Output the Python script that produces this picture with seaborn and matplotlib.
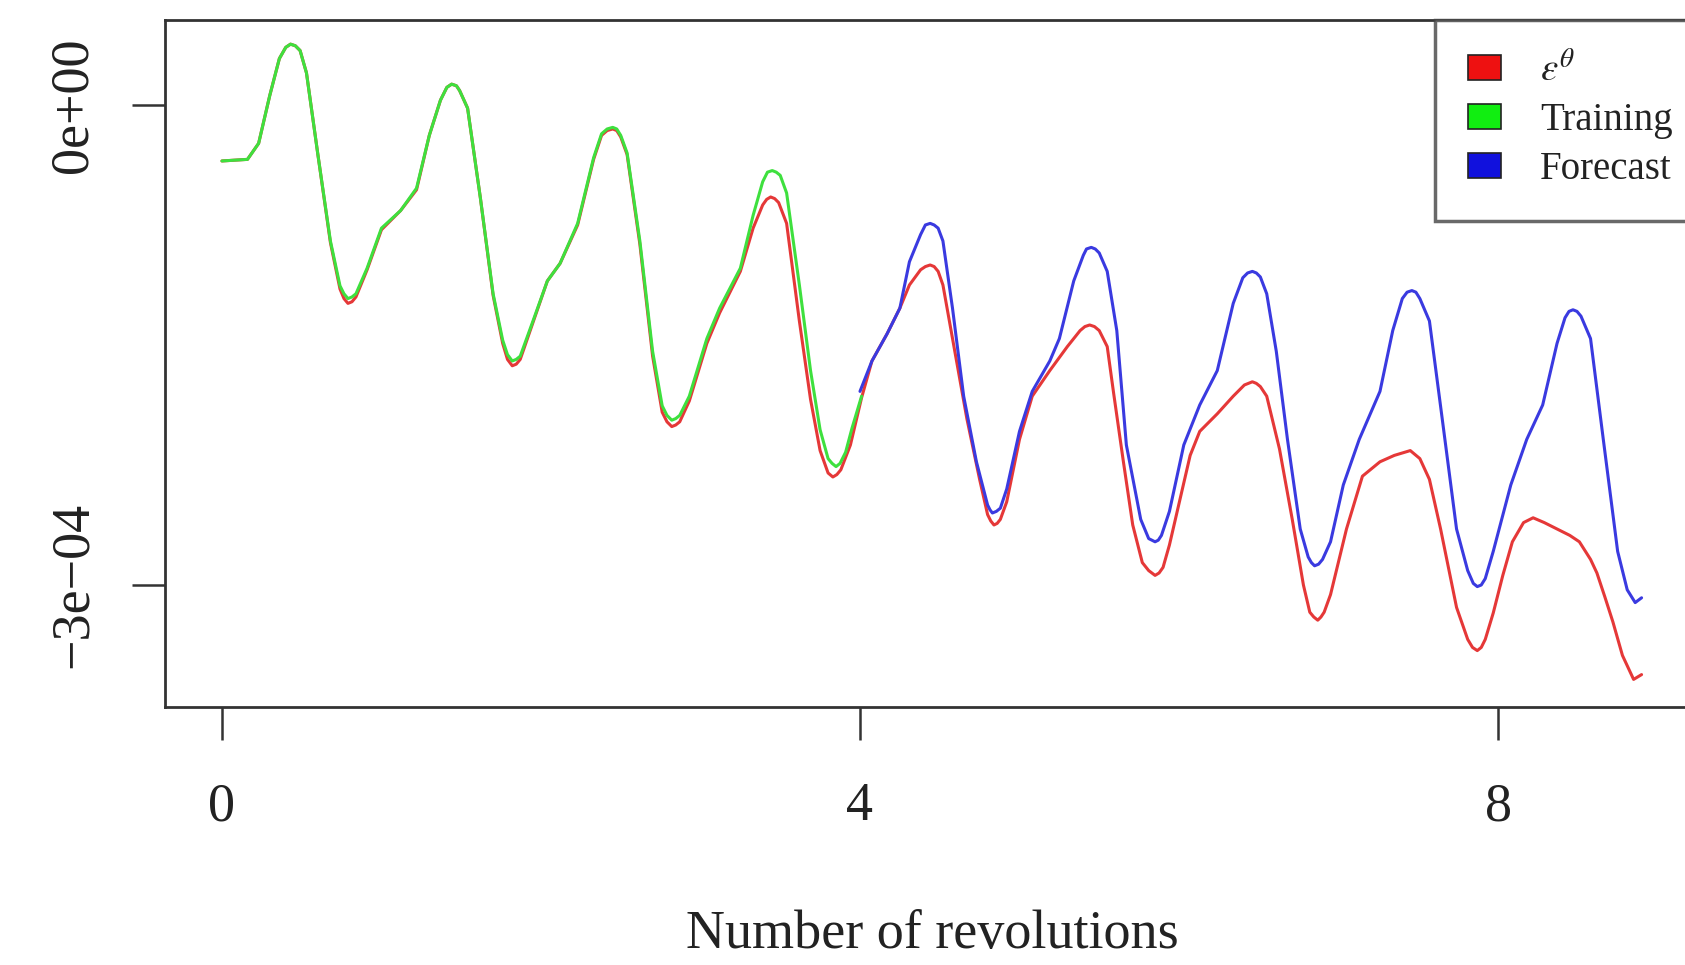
import numpy as np
import pandas as pd
import matplotlib
matplotlib.use("Agg")
import matplotlib.pyplot as plt
from matplotlib.patches import Patch
import seaborn as sns

# ---- data (x: number of revolutions, y: units of 1e-4) ----
eps_x = [0.00, 0.16, 0.23, 0.30, 0.36, 0.40, 0.43, 0.46, 0.49, 0.53, 0.60, 0.68, 0.74, 0.765,
         0.79, 0.815, 0.84, 0.91, 1.00, 1.12, 1.22, 1.30, 1.37, 1.41, 1.44, 1.47, 1.49, 1.54,
         1.62, 1.70, 1.76, 1.79, 1.82, 1.845, 1.87, 1.95, 2.04, 2.12, 2.23, 2.33, 2.38, 2.415,
         2.45, 2.475, 2.50, 2.54, 2.62, 2.70, 2.76, 2.79, 2.82, 2.845, 2.87, 2.93, 3.04, 3.12,
         3.25, 3.33, 3.39, 3.415, 3.44, 3.465, 3.49, 3.54, 3.62, 3.69, 3.75, 3.80, 3.83, 3.855,
         3.88, 3.94, 4.01, 4.075, 4.17, 4.25, 4.31, 4.38, 4.41, 4.44, 4.465, 4.49, 4.52, 4.58,
         4.67, 4.75, 4.80, 4.82, 4.84, 4.86, 4.88, 4.92, 5.00, 5.08, 5.19, 5.30, 5.38, 5.41,
         5.44, 5.47, 5.50, 5.55, 5.59, 5.65, 5.71, 5.77, 5.81, 5.85, 5.875, 5.90, 5.94, 6.01,
         6.07, 6.13, 6.24, 6.34, 6.41, 6.435, 6.46, 6.485, 6.51, 6.55, 6.63, 6.71, 6.78, 6.82,
         6.845, 6.87, 6.89, 6.91, 6.95, 7.05, 7.15, 7.26, 7.35, 7.45, 7.51, 7.57, 7.64, 7.74,
         7.81, 7.84, 7.87, 7.895, 7.92, 7.97, 8.03, 8.09, 8.16, 8.22, 8.29, 8.37, 8.45, 8.51,
         8.58, 8.62, 8.67, 8.72, 8.78, 8.85, 8.90]
eps_y = [-0.35, -0.34, -0.24, 0.06, 0.29, 0.36, 0.38, 0.37, 0.34, 0.20, -0.30, -0.86, -1.15, -1.21,
         -1.24, -1.23, -1.20, -1.03, -0.78, -0.66, -0.53, -0.19, 0.03, 0.11, 0.13, 0.12, 0.09, -0.02,
         -0.58, -1.19, -1.49, -1.59, -1.63, -1.62, -1.59, -1.36, -1.10, -0.99, -0.75, -0.34, -0.19, -0.16,
         -0.15, -0.16, -0.20, -0.31, -0.87, -1.57, -1.92, -1.98, -2.01, -2.00, -1.98, -1.85, -1.49, -1.30,
         -1.04, -0.77, -0.625, -0.59, -0.575, -0.585, -0.61, -0.74, -1.35, -1.84, -2.16, -2.30, -2.325, -2.31,
         -2.28, -2.125, -1.83, -1.60, -1.43, -1.27, -1.125, -1.03, -1.01, -1.00, -1.01, -1.04, -1.125, -1.46,
         -1.96, -2.34, -2.56, -2.60, -2.625, -2.615, -2.59, -2.48, -2.09, -1.82, -1.66, -1.51, -1.41, -1.385,
         -1.375, -1.385, -1.41, -1.51, -1.80, -2.22, -2.625, -2.86, -2.91, -2.94, -2.925, -2.89, -2.75, -2.45,
         -2.19, -2.04, -1.93, -1.82, -1.75, -1.74, -1.73, -1.74, -1.76, -1.82, -2.15, -2.59, -3.00, -3.17,
         -3.20, -3.22, -3.20, -3.17, -3.06, -2.65, -2.32, -2.23, -2.19, -2.16, -2.21, -2.34, -2.65, -3.14,
         -3.34, -3.39, -3.41, -3.39, -3.34, -3.175, -2.94, -2.73, -2.61, -2.58, -2.61, -2.65, -2.69, -2.73,
         -2.84, -2.925, -3.075, -3.23, -3.44, -3.59, -3.56]

train_x = [0.00, 0.16, 0.23, 0.30, 0.36, 0.40, 0.43, 0.46, 0.49, 0.53, 0.60, 0.68, 0.74, 0.765,
           0.79, 0.815, 0.84, 0.91, 1.00, 1.12, 1.22, 1.30, 1.37, 1.41, 1.44, 1.47, 1.49, 1.54,
           1.62, 1.70, 1.76, 1.79, 1.82, 1.845, 1.87, 1.95, 2.04, 2.12, 2.23, 2.33, 2.38, 2.415,
           2.45, 2.475, 2.50, 2.54, 2.62, 2.70, 2.76, 2.79, 2.82, 2.845, 2.87, 2.93, 3.04, 3.12,
           3.25, 3.33, 3.39, 3.42, 3.45, 3.475, 3.50, 3.54, 3.62, 3.69, 3.75, 3.80, 3.825, 3.85,
           3.875, 3.91, 3.95, 4.01]
train_y = [-0.35, -0.34, -0.24, 0.06, 0.29, 0.36, 0.38, 0.37, 0.34, 0.20, -0.30, -0.85, -1.13, -1.18,
           -1.21, -1.20, -1.18, -1.02, -0.77, -0.66, -0.52, -0.19, 0.03, 0.11, 0.13, 0.12, 0.09, -0.02,
           -0.58, -1.18, -1.47, -1.56, -1.60, -1.59, -1.57, -1.35, -1.10, -0.99, -0.74, -0.33, -0.18, -0.15,
           -0.14, -0.15, -0.19, -0.30, -0.85, -1.54, -1.88, -1.94, -1.97, -1.96, -1.94, -1.82, -1.46, -1.27,
           -1.02, -0.69, -0.48, -0.42, -0.41, -0.42, -0.44, -0.55, -1.125, -1.66, -2.03, -2.21, -2.24, -2.26,
           -2.24, -2.17, -2.02, -1.82]

fcst_x = [4.00, 4.075, 4.17, 4.25, 4.31, 4.38, 4.41, 4.44, 4.465, 4.49, 4.52, 4.58, 4.65, 4.73,
          4.80, 4.815, 4.83, 4.855, 4.88, 4.92, 5.00, 5.08, 5.19, 5.25, 5.34, 5.40, 5.42, 5.45,
          5.475, 5.50, 5.55, 5.61, 5.67, 5.76, 5.81, 5.83, 5.85, 5.87, 5.89, 5.94, 6.03, 6.13,
          6.24, 6.34, 6.40, 6.43, 6.46, 6.485, 6.51, 6.55, 6.61, 6.68, 6.76, 6.81, 6.83, 6.85,
          6.875, 6.90, 6.95, 7.03, 7.13, 7.26, 7.34, 7.40, 7.43, 7.46, 7.485, 7.51, 7.57, 7.65,
          7.74, 7.81, 7.845, 7.87, 7.895, 7.92, 7.97, 8.08, 8.18, 8.28, 8.37, 8.42, 8.445, 8.47,
          8.495, 8.52, 8.58, 8.66, 8.75, 8.81, 8.86, 8.90]
fcst_y = [-1.79, -1.60, -1.43, -1.27, -0.98, -0.81, -0.75, -0.74, -0.75, -0.77, -0.85, -1.27, -1.82, -2.23,
          -2.50, -2.53, -2.55, -2.54, -2.52, -2.40, -2.04, -1.79, -1.60, -1.46, -1.10, -0.94, -0.90, -0.89,
          -0.90, -0.925, -1.04, -1.41, -2.125, -2.59, -2.71, -2.72, -2.73, -2.72, -2.69, -2.54, -2.125, -1.875,
          -1.66, -1.24, -1.08, -1.05, -1.04, -1.05, -1.075, -1.18, -1.54, -2.09, -2.65, -2.825, -2.86, -2.88,
          -2.87, -2.84, -2.73, -2.375, -2.09, -1.79, -1.41, -1.21, -1.17, -1.16, -1.17, -1.21, -1.35, -1.96,
          -2.65, -2.91, -2.99, -3.01, -3.00, -2.96, -2.79, -2.375, -2.09, -1.875, -1.49, -1.33, -1.29, -1.28,
          -1.29, -1.32, -1.46, -2.09, -2.79, -3.03, -3.11, -3.08]

series_names = ["eps", "Training", "Forecast"]
legend_labels = [r"$\varepsilon^{\theta}$", "Training", "Forecast"]
line_colors = ["#e53838", "#3ee03e", "#3a3ae0"]
fill_colors = ["#ee1111", "#11ee11", "#1111dd"]
x_ticks = [0, 4, 8]
y_ticks = [0.0, -3e-4]
y_tick_labels = ["0e+00", "\u22123e\u221204"]
x_label = "Number of revolutions"

df = pd.concat([
    pd.DataFrame({"x": eps_x, "y": np.array(eps_y) * 1e-4, "series": "eps"}),
    pd.DataFrame({"x": train_x, "y": np.array(train_y) * 1e-4, "series": "Training"}),
    pd.DataFrame({"x": fcst_x, "y": np.array(fcst_y) * 1e-4, "series": "Forecast"}),
], ignore_index=True)

sns.set_style("white")
plt.rcParams["font.family"] = ["Liberation Serif", "DejaVu Serif"]
plt.rcParams["mathtext.fontset"] = "stix"

fig = plt.figure(figsize=(16.85, 9.65), dpi=100)
ax = fig.add_axes([165 / 1685, 258 / 965, (1699 - 165) / 1685, 687 / 965])

sns.lineplot(data=df, x="x", y="y", hue="series", hue_order=series_names,
             palette=dict(zip(series_names, line_colors)), estimator=None,
             sort=False, linewidth=2.2, legend=False, ax=ax)
for ln in ax.lines:
    ln.set_solid_joinstyle("round")
    ln.set_solid_capstyle("round")

ax.set_xlim(-0.357, 9.26)
ax.set_ylim(-3.7625e-4, 0.531e-4)
ax.set_xticks(x_ticks)
ax.set_xticklabels([str(t) for t in x_ticks])
ax.set_yticks(y_ticks)
ax.set_yticklabels(y_tick_labels)

for s in ax.spines.values():
    s.set_color("#333333")
    s.set_linewidth(2.0)

ax.tick_params(axis="both", which="major", direction="out", length=24, width=1.8,
               color="#333333", labelsize=39, labelcolor="#222222",
               bottom=True, left=True, top=False, right=False)
ax.tick_params(axis="x", pad=30)
ax.tick_params(axis="y", pad=24)
for t in ax.get_yticklabels():
    t.set_rotation(90)
    t.set_va("center")

ax.set_xlabel(x_label, fontsize=39, color="#222222")
ax.set_ylabel("")
ax.xaxis.label.set_va("center")
ax.xaxis.set_label_coords(0.5, -0.332)

handles = [Patch(facecolor=c, edgecolor="#222222", linewidth=1.2) for c in fill_colors]
leg = ax.legend(handles, legend_labels, loc="upper right", bbox_to_anchor=(1.0045, 1.0),
                borderaxespad=0.0, fontsize=28, frameon=True, fancybox=False,
                handlelength=0.85, handleheight=0.62, handletextpad=1.0,
                labelspacing=0.3, borderpad=0.85)
leg.get_frame().set_edgecolor("#444444")
leg.get_frame().set_linewidth(2.5)
for t in leg.get_texts():
    t.set_color("#222222")

fig.savefig("out.png", dpi=100, facecolor="white")
